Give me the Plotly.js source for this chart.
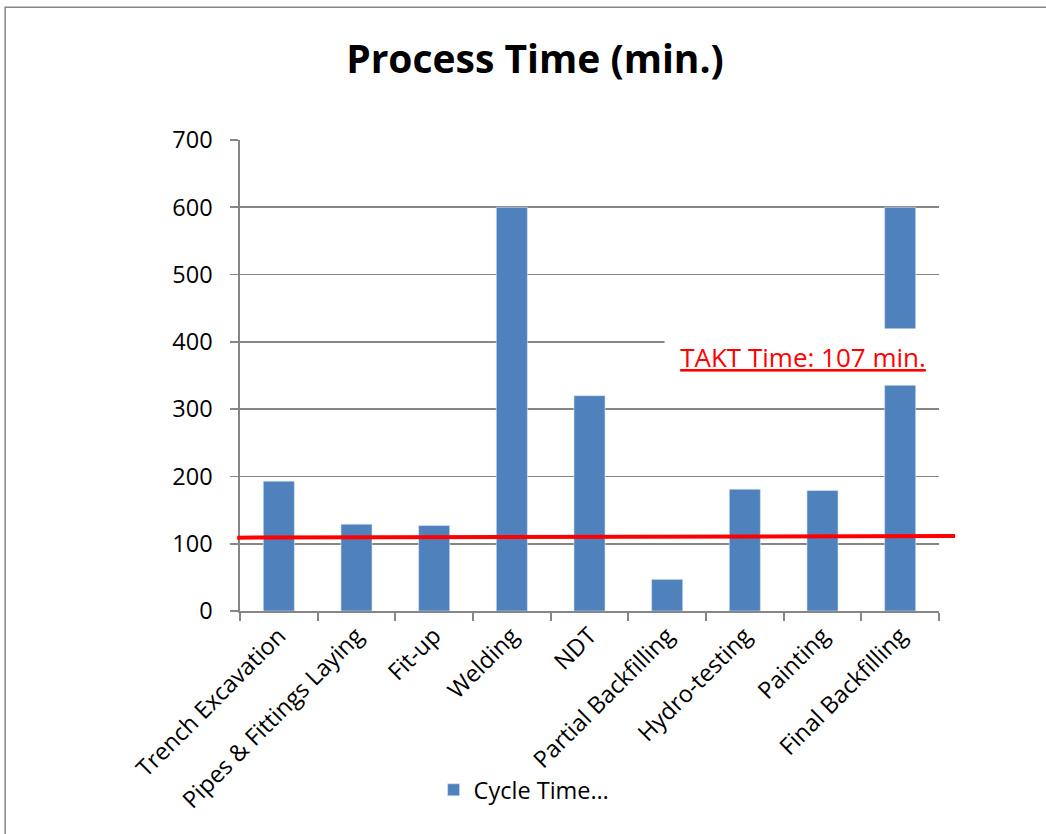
<!DOCTYPE html>
<html>
<head>
<meta charset="utf-8">
<script src="https://cdn.plot.ly/plotly-3.0.1.min.js"></script>
<style>
  html, body { margin: 0; padding: 0; background: #ffffff; }
  #chart { width: 1046px; height: 834px; }
</style>
</head>
<body>
<div id="chart"></div>
<script>
// Data
const categories = ["Trench Excavation", "Pipes & Fittings Laying", "Fit-up", "Welding", "NDT",
                    "Partial Backfilling", "Hydro-testing", "Painting", "Final Backfilling"];
const cycleTimes = [193, 129, 127, 600, 320, 47, 181, 179, 600];
const seriesName = "Cycle Time…";
const taktTime = 107;
const taktLabel = "TAKT Time: 107 min.";
const yTicks = [0, 100, 200, 300, 400, 500, 600, 700];

const FONT = "'Open Sans', 'Liberation Sans', sans-serif";
const GRID = "#868686";

const trace = {
  type: "bar",
  x: categories,
  y: cycleTimes,
  name: seriesName,
  marker: { color: "#4F81BD", line: { color: "#DCE6F2", width: 0.6 } },
  showlegend: true,
  hoverinfo: "x+y"
};

const layout = {
  width: 1046,
  height: 834,
  margin: { l: 240, r: 107, t: 140, b: 223 },
  paper_bgcolor: "#ffffff",
  plot_bgcolor: "#ffffff",
  font: { family: FONT, color: "#000000", size: 23 },
  title: {
    text: "<b>Process Time (min.)</b>",
    font: { family: FONT, size: 39, color: "#000000" },
    x: 535 / 1046, xref: "container", xanchor: "center",
    y: 1 - 59 / 834, yref: "container", yanchor: "middle"
  },
  bargap: 0.6,
  xaxis: {
    type: "category",
    tickangle: -45,
    tickson: "boundaries",
    ticks: "outside",
    ticklen: 8,
    tickwidth: 1.7,
    tickcolor: GRID,
    showline: true,
    linecolor: GRID,
    linewidth: 1.7,
    showgrid: false,
    zeroline: false,
    tickfont: { family: FONT, size: 23.5, color: "#000000" },
    automargin: false
  },
  yaxis: {
    range: [0, 700],
    tickvals: yTicks,
    ticktext: yTicks.map(String),
    ticks: "outside",
    ticklen: 8,
    tickwidth: 1.7,
    tickcolor: GRID,
    showline: true,
    linecolor: GRID,
    linewidth: 1.7,
    showgrid: true,
    gridcolor: GRID,
    gridwidth: 1.7,
    zeroline: false,
    ticklabelstandoff: 13,
    tickfont: { family: FONT, size: 23.5, color: "#000000" },
    automargin: false
  },
  legend: {
    orientation: "h",
    x: 0.277, xanchor: "left",
    y: -0.38, yanchor: "middle",
    font: { family: FONT, size: 23.5, color: "#000000" },
    bgcolor: "rgba(0,0,0,0)"
  },
  shapes: [
    // chart area border
    { type: "rect", xref: "paper", yref: "paper", x0: -0.336, x1: 1.3, y0: 1.282, y1: -0.6,
      line: { color: GRID, width: 1.5 }, fillcolor: "rgba(0,0,0,0)", layer: "below" },
    // TAKT time line (drawn slightly tilted as in the reference)
    { type: "line", xref: "paper", yref: "y", x0: -0.004, x1: 1.023, y0: taktTime + 2, y1: taktTime + 4.5,
      line: { color: "#FF0000", width: 4 }, layer: "above" }
  ],
  annotations: [
    { text: "<u>" + taktLabel + "</u>", xref: "paper", yref: "y", x: 0.805, y: 377,
      xanchor: "center", yanchor: "middle", showarrow: false,
      bgcolor: "#ffffff", width: 276, height: 56, borderpad: 0,
      font: { family: FONT, size: 26, color: "#FF0000" } }
  ]
};

Plotly.newPlot("chart", [trace], layout, { displayModeBar: false, staticPlot: true });
</script>
</body>
</html>
